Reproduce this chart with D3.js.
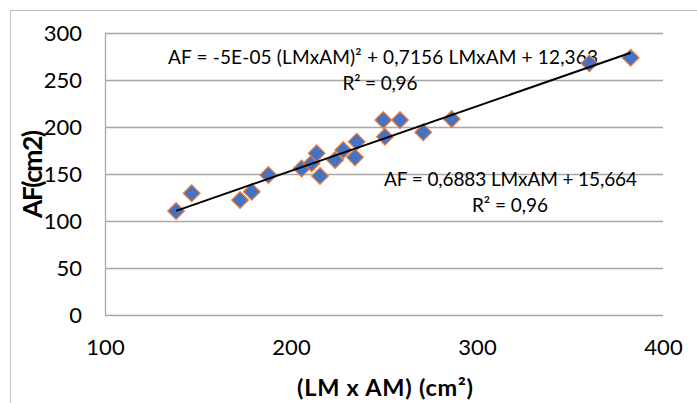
<!DOCTYPE html>
<html><head><meta charset="utf-8">
<script src="https://cdn.jsdelivr.net/npm/d3@7"></script>
<style>body{margin:0;background:#fff} svg{display:block}</style>
</head><body><svg id="c" width="697" height="403"></svg>
<script>
// ---- data ----
const lmxam = [138.2, 146.6, 172.6, 178.9, 187.8, 205.7, 211.1, 213.8, 215.6, 223.7, 228.1, 234.4, 235.3, 249.6, 250.5, 258.6, 271.1, 286.4, 360.4, 382.6];
const af    = [110.6, 129.5, 122.3, 131.2, 148.9, 155.9, 161.4, 172.0, 147.9, 164.9, 175.5, 167.8, 184.4, 207.4, 189.7, 207.4, 194.4, 208.5, 267.7, 273.7];
const xTicks = [100, 200, 300, 400];
const yTicks = [0, 50, 100, 150, 200, 250, 300];
const linSlope = 0.6883;
const linIntercept = 15.664;
const quadLabel = ["AF = -5E-05 (LMxAM)² + 0,7156 LMxAM + 12,363", "R² = 0,96"];
const linLabel = ["AF = 0,6883 LMxAM + 15,664", "R² = 0,96"];
const xTitle = "(LM x AM) (cm²)";
const yTitle = "AF(cm2)";

// ---- layout ----
const L = 105, R = 663, T = 33, B = 315;
const font = "Lato, 'Open Sans', sans-serif";
const svg = d3.select("#c");
const x = d3.scaleLinear().domain([100, 400]).range([L, R]);
const y = d3.scaleLinear().domain([0, 300]).range([B, T]);

svg.append("rect").attr("x", 10.5).attr("y", 10.5).attr("width", 700).attr("height", 400)
  .attr("fill", "#fff").attr("stroke", "#bfbfbf").attr("stroke-width", 1);

// gridlines
svg.append("g").selectAll("line").data(yTicks).join("line")
  .attr("x1", L).attr("x2", R).attr("y1", d => Math.round(y(d)) + 0.5).attr("y2", d => Math.round(y(d)) + 0.5)
  .attr("stroke", "#a6a6a6").attr("stroke-width", 1.3);
svg.append("line").attr("x1", L + 0.5).attr("x2", L + 0.5).attr("y1", T).attr("y2", B)
  .attr("stroke", "#a6a6a6").attr("stroke-width", 1.3);

// tick labels
const yAxis = d3.axisLeft(y).tickValues(yTicks).tickSize(0).tickPadding(23).tickFormat(d3.format("d"));
const gy = svg.append("g").attr("transform", `translate(${L},0)`).call(yAxis);
gy.select(".domain").remove();
gy.selectAll("text").attr("font-family", font).attr("font-size", 22).attr("fill", "#000");

const xAxis = d3.axisBottom(x).tickValues(xTicks).tickSize(0).tickPadding(24).tickFormat(d3.format("d"));
const gx = svg.append("g").attr("transform", `translate(0,${B})`).call(xAxis);
gx.select(".domain").remove();
gx.selectAll("text").attr("font-family", font).attr("font-size", 22).attr("fill", "#000");

// axis titles
svg.append("text").attr("x", 385).attr("y", 396).attr("text-anchor", "middle")
  .attr("font-family", font).attr("font-weight", "bold").attr("font-size", 23.5)
  .attr("textLength", 176).text(xTitle);
svg.append("text").attr("transform", "translate(42,174) rotate(-90)").attr("text-anchor", "middle")
  .attr("font-family", font).attr("font-weight", "bold").attr("font-size", 26.5)
  .attr("textLength", 88).text(yTitle);

// equation labels
function label(lines, widths, cxs, y0) {
  svg.append("g").selectAll("text").data(lines).join("text")
    .attr("x", (d, i) => cxs[i]).attr("y", (d, i) => y0 + i * 26).attr("text-anchor", "middle")
    .attr("font-family", font).attr("font-size", 19).attr("fill", "#000")
    .attr("textLength", (d, i) => widths[i]).text(d => d);
}
label(quadLabel, [430, 75], [383, 380], 64);
label(linLabel, [253, 76], [510.5, 510], 185.5);

// markers
const pts = lmxam.map((v, i) => [v, af[i]]);
svg.append("g").selectAll("path").data(pts).join("path")
  .attr("d", d3.symbol(d3.symbolSquare, 140))
  .attr("transform", d => `translate(${x(d[0])},${y(d[1])}) rotate(45)`)
  .attr("fill", "#4472c4").attr("stroke", "#ed7d31").attr("stroke-width", 1.2);

// linear trendline
const xmin = d3.min(lmxam), xmax = d3.max(lmxam);
svg.append("line")
  .attr("x1", x(xmin)).attr("y1", y(linSlope * xmin + linIntercept))
  .attr("x2", x(xmax)).attr("y2", y(linSlope * xmax + linIntercept))
  .attr("stroke", "#000").attr("stroke-width", 2);
</script></body></html>
